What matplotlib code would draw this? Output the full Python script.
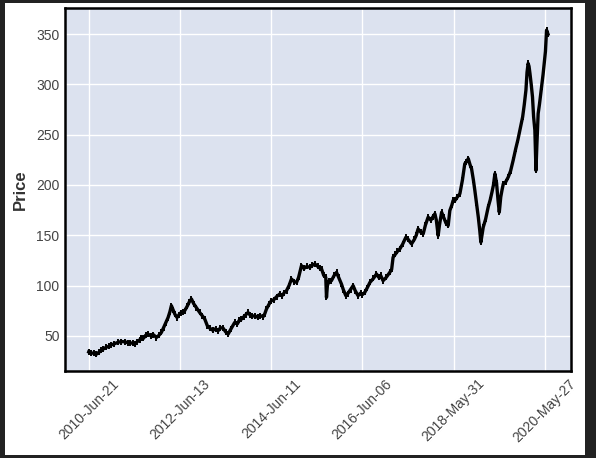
import numpy as np
import matplotlib as mpl
mpl.use("Agg")
import matplotlib.pyplot as plt
from matplotlib.patches import Rectangle

mpl.rcParams.update({
    "font.family": ["Liberation Sans", "DejaVu Sans"],
    "xtick.labelsize": 10,
    "ytick.labelsize": 10,
})

# trading-day index (0 = 2010-Jun-21) and closing price
day_idx = [
    0, 15, 30, 42, 55, 70, 78, 95, 110, 124, 140, 160, 179, 200, 215, 225, 240, 252,
    265, 280, 289, 300, 312, 325, 340, 355, 371, 385, 398, 410, 422, 435, 445, 453,
    462, 472, 484, 495, 505, 515, 526, 540, 552, 563, 575, 590, 608, 622, 636, 650,
    663, 680, 695, 709, 722, 736, 750, 764, 780, 800, 815, 825, 837, 850, 860, 873,
    885, 897, 910, 925, 940, 956, 965, 974, 990, 1001, 1015, 1030, 1047, 1060, 1072,
    1084, 1098, 1111, 1125, 1139, 1150, 1166, 1180, 1195, 1212, 1225, 1239, 1255,
    1265, 1276, 1288, 1299, 1303, 1308, 1317, 1330, 1345, 1358, 1370, 1385, 1395,
    1409, 1420, 1435, 1449, 1460, 1476, 1490, 1500, 1513, 1527, 1541, 1560, 1577,
    1590, 1600, 1613, 1630, 1650, 1660, 1668, 1680, 1692, 1705, 1720, 1738, 1750,
    1769, 1785, 1795, 1805, 1820, 1833, 1845, 1860, 1875, 1885, 1897, 1905, 1915,
    1922, 1934, 1945, 1958, 1970, 1979, 1990, 1997, 2007, 2020, 2034, 2048, 2061,
    2070, 2080, 2090, 2098, 2108, 2116, 2125, 2135, 2143, 2149, 2155, 2162, 2175,
    2189, 2200, 2210, 2218, 2226, 2235, 2243, 2250, 2258, 2265, 2272, 2285, 2299,
    2312, 2326, 2340, 2352, 2363, 2378, 2387, 2396, 2402, 2408, 2413, 2418, 2425,
    2432, 2438, 2445, 2451, 2456, 2463, 2470, 2482, 2490, 2496, 2503, 2509, 2517,
]
close = [
    34.0, 33.0, 32.5, 31.7, 33.5, 35.5, 36.7, 38.5, 39.5, 41.0, 42.0, 43.5, 44.3, 44.0,
    43.0, 43.3, 42.5, 41.7, 44.0, 46.0, 48.3, 47.5, 50.5, 51.7, 50.0, 51.0, 48.3, 50.5,
    53.3, 58.0, 63.0, 68.2, 74.0, 80.0, 76.0, 71.5, 68.2, 71.0, 73.0, 73.5, 75.0, 79.5,
    84.0, 86.6, 82.0, 78.0, 73.2, 70.0, 66.6, 60.0, 57.7, 55.5, 57.0, 55.0, 58.0, 57.7,
    54.0, 51.7, 57.0, 63.3, 62.0, 65.5, 66.6, 69.0, 71.0, 73.2, 70.5, 69.5, 70.0, 68.5,
    70.0, 69.0, 72.0, 76.6, 82.0, 84.9, 86.0, 89.0, 91.6, 90.0, 93.0, 94.9, 100.0,
    106.5, 104.0, 103.1, 108.0, 119.8, 117.0, 119.0, 118.1, 120.0, 121.5, 119.0, 117.5,
    116.5, 110.0, 108.1, 88.2, 100.0, 104.8, 104.8, 110.0, 113.1, 108.0, 101.5, 96.0,
    89.9, 92.0, 96.0, 99.9, 95.0, 89.9, 92.5, 91.0, 93.2, 98.0, 103.1, 107.0, 111.5,
    108.0, 110.0, 104.8, 108.0, 113.1, 116.0, 128.1, 131.0, 134.0, 136.4, 141.0, 148.0,
    146.0, 141.4, 146.0, 150.0, 156.3, 153.0, 151.4, 160.0, 168.0, 165.0, 168.0, 171.3,
    165.0, 149.7, 160.0, 172.9, 168.0, 162.0, 159.7, 174.6, 180.0, 184.6, 184.6, 188.0,
    191.3, 205.0, 221.2, 223.0, 226.2, 220.0, 216.2, 205.0, 194.6, 182.0, 168.0, 154.7,
    143.0, 150.0, 158.0, 166.0, 177.9, 185.0, 193.0, 200.0, 211.2, 202.0, 185.0, 172.9,
    188.0, 195.0, 201.2, 203.0, 207.8, 214.0, 224.5, 236.0, 245.0, 254.4, 267.7, 280.0,
    294.3, 312.0, 320.9, 318.0, 311.0, 300.0, 287.5, 268.0, 254.4, 214.5, 240.0, 271.0,
    280.0, 297.6, 310.0, 320.9, 333.0, 354.0, 350.0,
]

tick_idx = [0, 500, 1000, 1500, 2000, 2500]
tick_labels = ["2010-Jun-21", "2012-Jun-13", "2014-Jun-11",
               "2016-Jun-06", "2018-May-31", "2020-May-27"]
y_ticks = [50, 100, 150, 200, 250, 300, 350]

W, H = 596, 458
fig = plt.figure(figsize=(W / 100, H / 100), dpi=100, facecolor="#222222")
# white page inside the dark screenshot frame
fig.patches.append(Rectangle((5 / W, 3 / H), 580 / W, 452 / H, transform=fig.transFigure,
                             facecolor="white", edgecolor="none", zorder=-10))

ax = fig.add_axes([65 / W, (H - 371) / H, (571 - 65) / W, (371 - 8) / H])
ax.set_facecolor("#DCE2EF")
ax.grid(True, color="white", linewidth=1.0)
ax.set_axisbelow(True)
for s in ax.spines.values():
    s.set_color("black")
    s.set_linewidth(1.8)

# thick black price trace with bar-like ticks, as in an ohlc plot
ax.plot(day_idx, close, color="black", linewidth=2.4, marker="|",
        markersize=5, markeredgewidth=1.4)

ax.set_xlim(-130, 2643)
ax.set_ylim(15, 376)
ax.set_xticks(tick_idx)
ax.set_xticklabels(tick_labels, rotation=45, ha="center", color="#444444")
ax.set_yticks(y_ticks)
ax.tick_params(axis="both", length=0, pad=4, labelcolor="#444444")
ax.set_ylabel("Price", fontsize=12, fontweight="bold", color="#333333", labelpad=6)

fig.savefig("out.png", dpi=100, facecolor=fig.get_facecolor())
